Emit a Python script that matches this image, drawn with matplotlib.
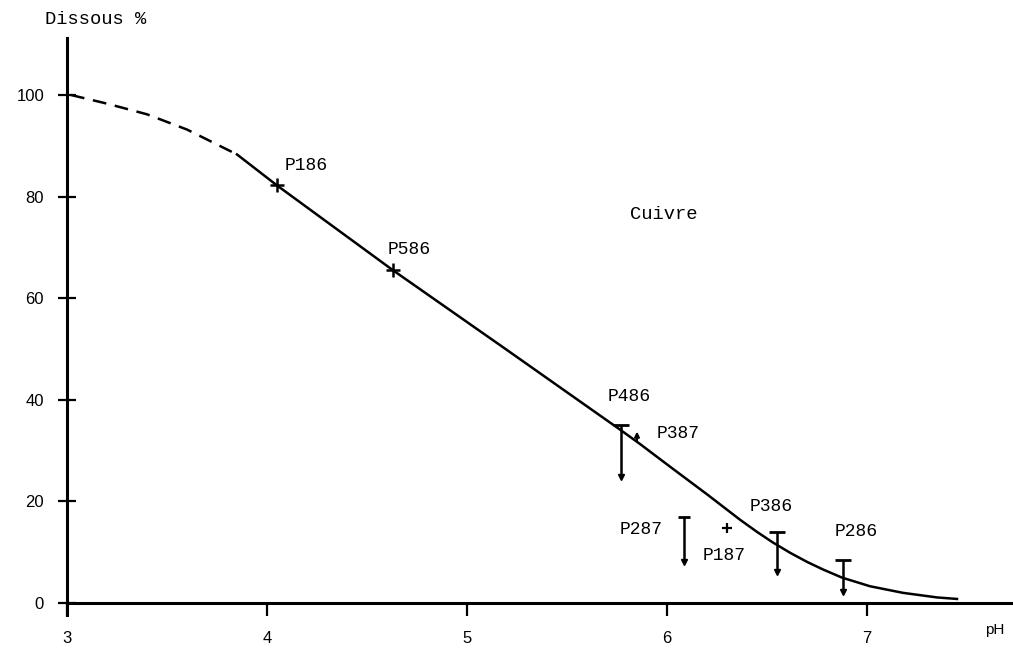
import numpy as np
import matplotlib.pyplot as plt

# Courbe de dissolution du cuivre en fonction du pH
dashed_ph = [3.02, 3.2, 3.4, 3.6, 3.85]
dashed_val = [100.0, 98.3, 96.2, 93.2, 88.3]
solid_ph = [3.85, 4.05, 4.63, 5.2, 5.77, 5.865, 6.03, 6.2, 6.365, 6.45, 6.53,
            6.615, 6.70, 6.78, 6.875, 7.015, 7.18, 7.35, 7.45]
solid_val = [88.3, 82.2, 65.5, 49.8, 34.0, 31.3, 26.4, 21.4, 16.4, 14.0, 11.9,
             9.9, 8.1, 6.6, 5.0, 3.3, 2.0, 1.1, 0.8]

# Points ponctuels (croix)
cross_names = ["P186", "P586", "P187"]
cross_ph = [4.05, 4.63, 6.30]
cross_val = [82.2, 65.5, 14.8]

# Intervalles (haut = barre, bas = fleche)
bar_names = ["P486", "P287", "P386", "P286"]
bar_ph = [5.77, 6.085, 6.55, 6.88]
bar_top = [35.0, 16.9, 14.0, 8.5]
bar_bottom = [24.8, 8.1, 6.1, 2.2]

# P387 : petite fleche vers le haut
p387_ph = 5.85
p387_val = 32.7

# Labels (x, y de chaque etiquette)
label_names = ["P186", "P586", "P486", "P387", "P287", "P187", "P386", "P286"]
label_x = [4.09, 4.605, 5.705, 5.95, 5.98, 6.18, 6.415, 6.84]
label_y = [86.2, 69.5, 40.6, 33.3, 14.4, 9.4, 18.9, 14.0]

x_ticks = [3, 4, 5, 6, 7]
y_ticks = [0, 20, 40, 60, 80, 100]

mono = "Liberation Mono"

fig = plt.figure(figsize=(10.13, 6.53), dpi=100)
ax = fig.add_axes([0, 0, 1, 1])
ax.set_xlim(2.665, 7.73)
ax.set_ylim(-9.84, 118.7)

for s in ["top", "right"]:
    ax.spines[s].set_visible(False)
ax.spines["left"].set_position(("data", 3))
ax.spines["bottom"].set_position(("data", 0))
ax.spines["left"].set_bounds(-2.4, 111.2)
ax.spines["bottom"].set_bounds(3, 7.73)
ax.spines["left"].set_linewidth(2.2)
ax.spines["bottom"].set_linewidth(2.2)

ax.set_xticks(x_ticks)
ax.set_yticks(y_ticks)
ax.tick_params(axis="x", direction="out", length=9, width=1.6, pad=11,
               labelsize=12)
ax.tick_params(axis="y", direction="inout", length=13, width=1.6, pad=10,
               labelsize=12)
for lab in ax.get_xticklabels() + ax.get_yticklabels():
    lab.set_fontfamily("Liberation Sans")

# Courbe
ax.plot(dashed_ph, dashed_val, color="black", lw=1.8, ls=(0, (5.5, 3.5)))
ax.plot(solid_ph, solid_val, color="black", lw=1.8)

# Croix (P187 plus petite)
ax.plot(cross_ph[:2], cross_val[:2], ls="none", marker="+", ms=10, mew=1.8,
        color="black")
ax.plot(cross_ph[2:], cross_val[2:], ls="none", marker="+", ms=7, mew=1.6,
        color="black")

# Barres
cap_sizes = [12, 8, 12, 12]
ax.vlines(bar_ph, bar_bottom, bar_top, color="black", lw=1.8)
for x, top, cs in zip(bar_ph, bar_top, cap_sizes):
    ax.plot(x, top, ls="none", marker="_", ms=cs, mew=2, color="black")
ax.plot(bar_ph, bar_bottom, ls="none", marker="v", ms=5, color="black")

# P387
ax.annotate("", xy=(p387_ph, p387_val + 1.6), xytext=(p387_ph, p387_val - 1.2),
            arrowprops=dict(arrowstyle="-|>", color="black", lw=1.5,
                            mutation_scale=7))

for name, x, y in zip(label_names, label_x, label_y):
    ha = "right" if name == "P287" else "left"
    ax.text(x, y, name, ha=ha, va="center", fontsize=13, family=mono)

ax.text(5.815, 76.4, "Cuivre", ha="left", va="center", fontsize=13.5,
        family=mono)
ax.text(2.89, 114.8, "Dissous %", ha="left", va="center", fontsize=13.5,
        family=mono)
ax.text(7.59, -5.3, "pH", ha="left", va="center", fontsize=11,
        family="Liberation Sans")

fig.savefig("out.png", dpi=100)
